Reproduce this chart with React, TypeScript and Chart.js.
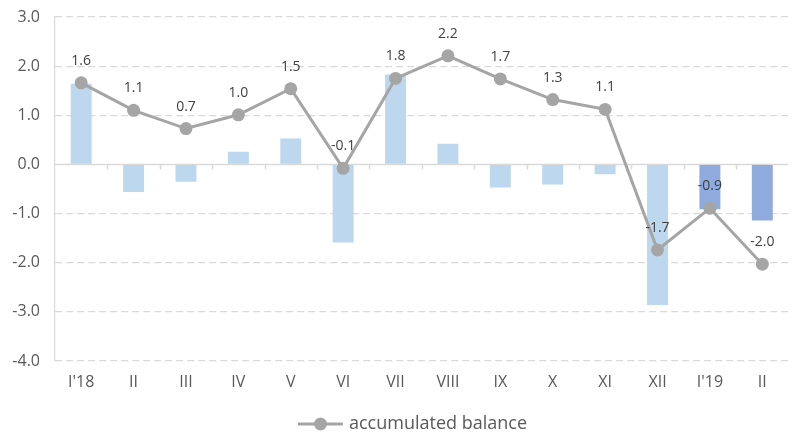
import React, { useEffect, useRef } from "react";
import { Chart, registerables } from "chart.js";

Chart.register(...registerables);

const categories = ["I'18", "II", "III", "IV", "V", "VI", "VII", "VIII", "IX", "X", "XI", "XII", "I'19", "II"];
const monthlyBalance = [1.64, -0.56, -0.35, 0.26, 0.53, -1.59, 1.83, 0.42, -0.47, -0.41, -0.2, -2.86, -0.91, -1.14];
const accumulatedBalance = [1.66, 1.1, 0.73, 1.01, 1.54, -0.08, 1.75, 2.21, 1.74, 1.32, 1.12, -1.74, -0.89, -2.03];
const accumulatedLabels = ["1.6", "1.1", "0.7", "1.0", "1.5", "-0.1", "1.8", "2.2", "1.7", "1.3", "1.1", "-1.7", "-0.9", "-2.0"];
const yTicks = [3, 2, 1, 0, -1, -2, -3, -4];
const legendText = "accumulated balance";

const FONT = "'Open Sans', 'Noto Sans', sans-serif";
const TEXT = "#595959";
const LINE = "#A5A5A5";

const overlayPlugin = {
  id: "overlay",
  beforeDatasetsDraw(chart: any) {
    const { ctx, chartArea, scales } = chart;
    const y0 = scales.y.getPixelForValue(0);
    ctx.save();
    ctx.strokeStyle = "#D9D9D9";
    ctx.lineWidth = 1.5;
    ctx.setLineDash([]);
    ctx.beginPath();
    ctx.moveTo(chartArea.left, y0);
    ctx.lineTo(chartArea.right, y0);
    const n = categories.length;
    const w = (chartArea.right - chartArea.left) / n;
    for (let i = 1; i < n; i++) {
      const x = Math.round(chartArea.left + i * w) + 0.5;
      ctx.moveTo(x, y0);
      ctx.lineTo(x, y0 + 5);
    }
    ctx.stroke();
    // y-axis tick labels
    ctx.font = `16px ${FONT}`;
    ctx.fillStyle = TEXT;
    ctx.textAlign = "right";
    ctx.textBaseline = "middle";
    yTicks.forEach((v) => {
      ctx.fillText(v.toFixed(1), chartArea.left - 15, scales.y.getPixelForValue(v));
    });
    ctx.restore();
  },
  afterDatasetsDraw(chart: any) {
    const { ctx } = chart;
    const meta = chart.getDatasetMeta(1);
    ctx.save();
    ctx.font = `14px ${FONT}`;
    ctx.fillStyle = "#404040";
    ctx.textAlign = "center";
    ctx.textBaseline = "middle";
    meta.data.forEach((pt: any, i: number) => {
      ctx.fillText(accumulatedLabels[i], pt.x, pt.y - 22);
    });
    ctx.restore();
  },
  afterDraw(chart: any) {
    const { ctx, height } = chart;
    const yc = height - 10;
    const x0 = 298;
    ctx.save();
    ctx.strokeStyle = LINE;
    ctx.fillStyle = LINE;
    ctx.lineWidth = 3;
    ctx.beginPath();
    ctx.moveTo(x0, yc);
    ctx.lineTo(x0 + 45, yc);
    ctx.stroke();
    ctx.beginPath();
    ctx.arc(x0 + 22.5, yc, 6.5, 0, Math.PI * 2);
    ctx.fill();
    ctx.font = `18px ${FONT}`;
    ctx.fillStyle = TEXT;
    ctx.textAlign = "left";
    ctx.textBaseline = "middle";
    ctx.fillText(legendText, x0 + 51, yc);
    ctx.restore();
  },
};

export default function App() {
  const ref = useRef<HTMLCanvasElement | null>(null);
  useEffect(() => {
    if (!ref.current) return;
    const chart = new Chart(ref.current, {
      type: "bar",
      data: {
        labels: categories,
        datasets: [
          {
            type: "bar",
            label: "monthly balance",
            data: monthlyBalance,
            backgroundColor: monthlyBalance.map((_, i) => (i >= 12 ? "#8FAADC" : "#BDD7EE")),
            barPercentage: 0.4,
            categoryPercentage: 1,
            order: 2,
          },
          {
            type: "line",
            label: legendText,
            data: accumulatedBalance,
            borderColor: LINE,
            backgroundColor: LINE,
            borderWidth: 3,
            pointRadius: 6.5,
            pointHoverRadius: 6.5,
            pointBackgroundColor: LINE,
            pointBorderColor: LINE,
            pointBorderWidth: 0,
            tension: 0,
            order: 1,
          },
        ],
      },
      options: {
        animation: false,
        responsive: false,
        maintainAspectRatio: false,
        layout: { padding: { top: 17, right: 0, bottom: 23, left: 0 } },
        plugins: {
          tooltip: { enabled: false },
          legend: { display: false },
        },
        scales: {
          x: {
            grid: { display: false },
            border: { display: false },
            ticks: { color: TEXT, font: { size: 16, family: FONT }, padding: 4, maxRotation: 0 },
            afterFit: (s: any) => {
              s.height = 50;
            },
          },
          y: {
            min: -4,
            max: 3,
            afterBuildTicks: (s: any) => {
              s.ticks = yTicks.map((v) => ({ value: v }));
            },
            ticks: { display: false },
            grid: {
              color: (c: any) => (c.tick && c.tick.value === 0 ? "rgba(0,0,0,0)" : "#D9D9D9"),
              lineWidth: 1.2,
              drawTicks: false,
            },
            border: { display: true, color: "#D9D9D9", width: 1.2, dash: [7, 4] },
            afterFit: (s: any) => {
              s.width = 55;
            },
          },
        },
      },
      plugins: [overlayPlugin],
    } as any);
    return () => chart.destroy();
  }, []);
  return (
    <div style={{ position: "fixed", left: 0, top: 0, width: 795, height: 434, background: "#fff" }}>
      <canvas ref={ref} width={795} height={434} style={{ width: 795, height: 434 }} />
    </div>
  );
}
